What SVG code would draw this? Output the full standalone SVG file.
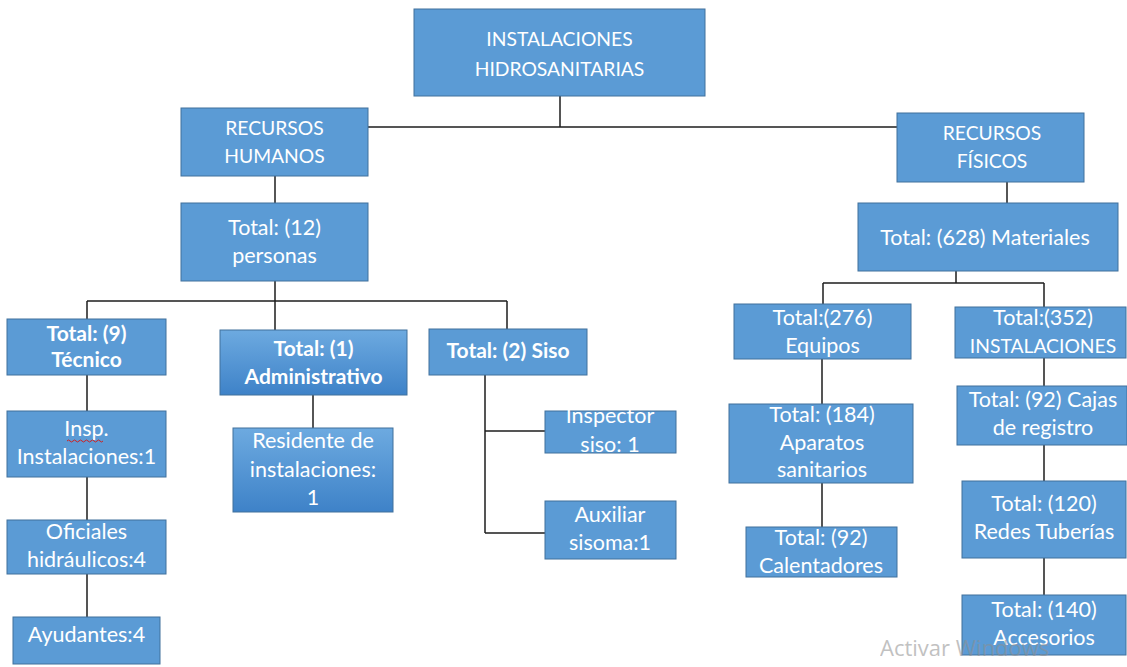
<svg xmlns="http://www.w3.org/2000/svg" width="1127" height="667" viewBox="0 0 1127 667">
  <style>
    .box { fill: #5B9BD5; stroke: #41719C; stroke-width: 1; }
    .grad { fill: url(#boxGrad); stroke: #41719C; stroke-width: 1; }
    .lbl { font-family: Lato, "Liberation Sans", sans-serif; font-size: 21.5px; fill: #ffffff; text-anchor: middle; }
    .cap { font-size: 19.3px; }
    .b { font-weight: bold; font-size: 21px; }
    .links path { fill: none; stroke: #1e1e1e; stroke-width: 1.5; }
    .wm { font-family: "Open Sans", "Liberation Sans", sans-serif; font-size: 22px; fill: #8f8f8f; opacity: 0.55; }
  </style>
  <defs>
    <linearGradient id="boxGrad" x1="0" y1="0" x2="0" y2="1">
      <stop offset="0" stop-color="#6DAAE0"/>
      <stop offset="1" stop-color="#3E82C8"/>
    </linearGradient>
  </defs>
  <rect width="1127" height="667" fill="#ffffff"/>

  <!-- connectors -->
  <g id="connectors" class="links">
    <path d="M560,96 V127 M368,127 H897"/>
    <path d="M275,176 V203"/>
    <path d="M275,281 V330 M87,301 H507 M87,301 V319 M507,301 V329"/>
    <path d="M87,375 V411 M87,477 V520 M87,574 V617"/>
    <path d="M313,395 V428"/>
    <path d="M485,375 V533 M485,431 H545 M485,533 H545"/>
    <path d="M1007,182 V203"/>
    <path d="M956,271 V283 M823,283 H1044 M823,283 V304 M1044,283 V307"/>
    <path d="M822,359 V404 M822,483 V527"/>
    <path d="M1044,358 V386 M1044,445 V481 M1044,558 V595"/>
  </g>

  <g id="instalaciones-hidrosanitarias">
    <rect class="box" x="414" y="9" width="291" height="87"/>
    <text class="lbl cap" x="559.5" y="46">INSTALACIONES</text>
    <text class="lbl cap" x="559.5" y="76">HIDROSANITARIAS</text>
  </g>
  <g id="recursos-humanos">
    <rect class="box" x="181" y="108" width="187" height="68"/>
    <text class="lbl cap" x="274.5" y="135">RECURSOS</text>
    <text class="lbl cap" x="274.5" y="163">HUMANOS</text>
  </g>
  <g id="recursos-fisicos">
    <rect class="box" x="897" y="113" width="187" height="69"/>
    <text class="lbl cap" x="992" y="140">RECURSOS</text>
    <text class="lbl cap" x="992" y="168">FÍSICOS</text>
  </g>
  <g id="total-personas">
    <rect class="box" x="181" y="203" width="187" height="78"/>
    <text class="lbl" x="274.5" y="235">Total: (12)</text>
    <text class="lbl" x="274.5" y="263">personas</text>
  </g>
  <g id="total-materiales">
    <rect class="box" x="858" y="203" width="260" height="68"/>
    <text class="lbl" x="985" y="245">Total: (628) Materiales</text>
  </g>

  <g id="tecnico">
    <rect class="box" x="7" y="319" width="159" height="56"/>
    <text class="lbl b" x="86.5" y="341">Total: (9)</text>
    <text class="lbl b" x="86.5" y="367">Técnico</text>
  </g>
  <g id="administrativo">
    <rect class="grad" x="220" y="330" width="187" height="65"/>
    <text class="lbl b" x="313.5" y="356">Total: (1)</text>
    <text class="lbl b" x="313.5" y="384">Administrativo</text>
  </g>
  <g id="siso">
    <rect class="box" x="429" y="329" width="158" height="46"/>
    <text class="lbl b" x="508" y="358">Total: (2) Siso</text>
  </g>

  <g id="insp-instalaciones">
    <rect class="box" x="7" y="411" width="159" height="66"/>
    <text class="lbl" x="86.5" y="436">Insp.</text>
    <path d="M67,441 q1.5,-2 3,0 t3,0 t3,0 t3,0 t3,0 t3,0 t3,0 t3,0 t3,0 t3,0 t3,0 t3,0" fill="none" stroke="#d02020" stroke-width="1"/>
    <text class="lbl" x="86.5" y="464">Instalaciones:1</text>
  </g>
  <g id="oficiales">
    <rect class="box" x="7" y="520" width="159" height="54"/>
    <text class="lbl" x="86.5" y="539">Oficiales</text>
    <text class="lbl" x="86.5" y="567">hidráulicos:4</text>
  </g>
  <g id="ayudantes">
    <rect class="box" x="13" y="617" width="147" height="47"/>
    <text class="lbl" x="86.5" y="642">Ayudantes:4</text>
  </g>
  <g id="residente">
    <rect class="grad" x="233" y="428" width="160" height="84"/>
    <text class="lbl" x="313" y="448">Residente de</text>
    <text class="lbl" x="313" y="477">instalaciones:</text>
    <text class="lbl" x="313" y="505">1</text>
  </g>
  <g id="inspector-siso">
    <rect class="box" x="545" y="411" width="131" height="42"/>
    <text class="lbl" x="610" y="423">Inspector</text>
    <text class="lbl" x="610" y="452">siso: 1</text>
  </g>
  <g id="auxiliar-sisoma">
    <rect class="box" x="545" y="501" width="131" height="58"/>
    <text class="lbl" x="610" y="522">Auxiliar</text>
    <text class="lbl" x="610" y="550">sisoma:1</text>
  </g>

  <g id="equipos">
    <rect class="box" x="734" y="304" width="177" height="55"/>
    <text class="lbl" x="822.5" y="325">Total:(276)</text>
    <text class="lbl" x="822.5" y="353">Equipos</text>
  </g>
  <g id="instalaciones">
    <rect class="box" x="955" y="307" width="171" height="51"/>
    <text class="lbl" x="1043" y="325">Total:(352)</text>
    <text class="lbl cap" x="1043" y="353">INSTALACIONES</text>
  </g>
  <g id="aparatos-sanitarios">
    <rect class="box" x="729" y="404" width="184" height="79"/>
    <text class="lbl" x="822" y="422">Total: (184)</text>
    <text class="lbl" x="822" y="450">Aparatos</text>
    <text class="lbl" x="822" y="477">sanitarios</text>
  </g>
  <g id="calentadores">
    <rect class="box" x="746" y="527" width="151" height="50"/>
    <text class="lbl" x="821" y="545">Total: (92)</text>
    <text class="lbl" x="821" y="573">Calentadores</text>
  </g>
  <g id="cajas-registro">
    <rect class="box" x="957" y="386" width="170" height="59"/>
    <text class="lbl" x="1043" y="407">Total: (92) Cajas</text>
    <text class="lbl" x="1043" y="435">de registro</text>
  </g>
  <g id="redes-tuberias">
    <rect class="box" x="962" y="481" width="164" height="77"/>
    <text class="lbl" x="1044" y="511">Total: (120)</text>
    <text class="lbl" x="1044" y="539">Redes Tuberías</text>
  </g>
  <g id="accesorios">
    <rect class="box" x="962" y="595" width="164" height="60"/>
    <text class="lbl" x="1044" y="617">Total: (140)</text>
    <text class="lbl" x="1044" y="645">Accesorios</text>
  </g>

  <text class="wm" x="880" y="656">Activar Windows</text>
</svg>
